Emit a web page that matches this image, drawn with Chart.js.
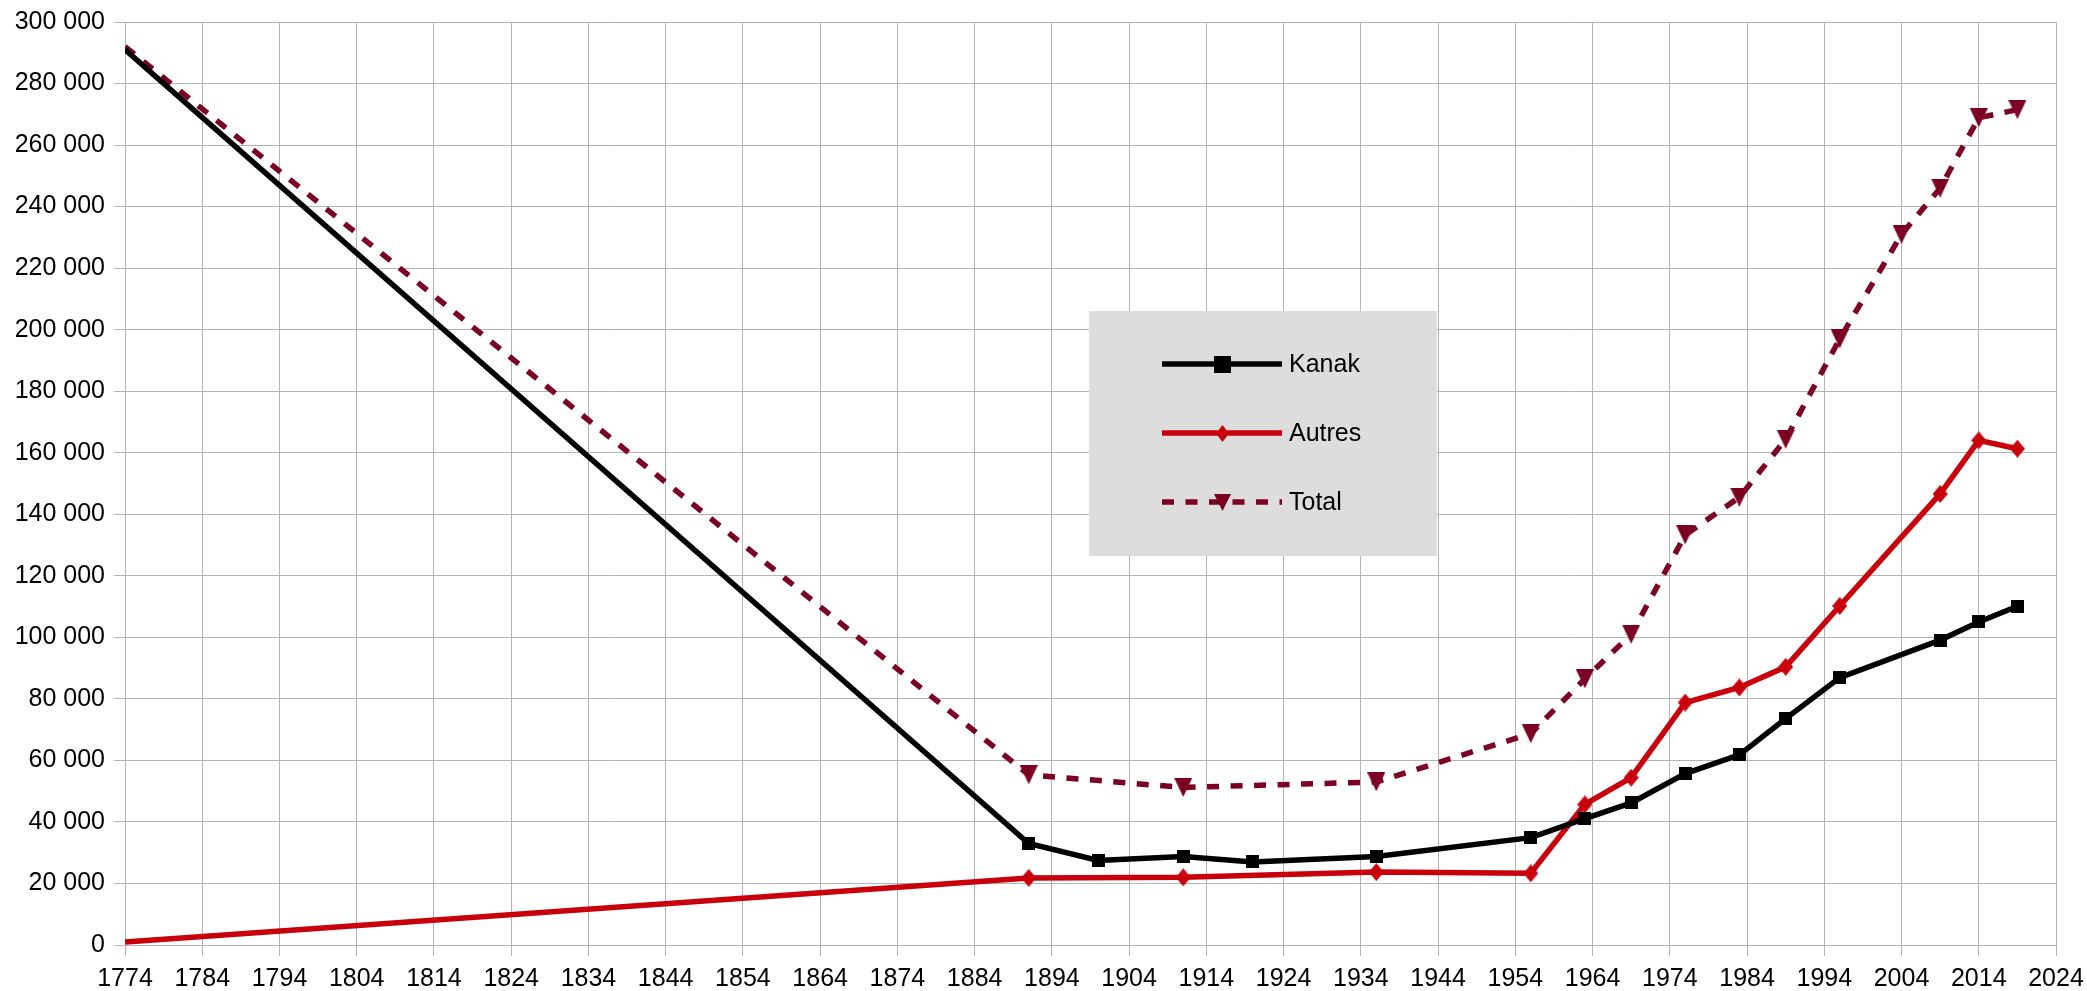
<!DOCTYPE html>
<html>
<head>
<meta charset="utf-8">
<script src="https://cdn.jsdelivr.net/npm/chart.js@4.4.1/dist/chart.umd.min.js"></script>
<style>
  html, body { margin: 0; padding: 0; background: #ffffff; }
  #wrap { width: 2087px; height: 991px; position: relative; }
</style>
</head>
<body>
<div id="wrap"><canvas id="chart" width="2087" height="991"></canvas></div>
<script>
// ---- Data ----
const seriesNames = ['Kanak', 'Autres', 'Total'];

const kanakYears  = [1774, 1891, 1900, 1911, 1920, 1936, 1956, 1963, 1969, 1976, 1983, 1989, 1996, 2009, 2014, 2019];
const kanakValues = [291000, 33000, 27500, 28800, 27000, 28800, 34900, 41100, 46200, 55700, 61800, 73600, 86900, 99100, 105000, 110100];

const autresYears  = [1774, 1891, 1911, 1936, 1956, 1963, 1969, 1976, 1983, 1989, 1996, 2009, 2014, 2019];
const autresValues = [1000, 21800, 22000, 23700, 23300, 45700, 54400, 78800, 83700, 90400, 110200, 146600, 164000, 161300];

const totalYears  = [1774, 1891, 1911, 1936, 1956, 1963, 1969, 1976, 1983, 1989, 1996, 2004, 2009, 2014, 2019];
const totalValues = [292000, 55300, 51200, 53000, 68700, 86500, 101000, 133300, 145500, 164400, 197000, 231000, 246000, 268900, 271500];

const xTickMin = 1774, xTickMax = 2024, xTickStep = 10;
const yTickMin = 0, yTickMax = 300000, yTickStep = 20000;

// ---- Styles ----
const COL_KANAK = '#000000';
const COL_AUTRES = '#c9000c';
const COL_TOTAL = '#7c0022';
const GRID = '#b3b3b3';
const FONT = "'Liberation Sans', Arial, sans-serif";
const LINE_W = 5.5;

function makeMarker(kind, w, h, color) {
  const c = document.createElement('canvas');
  c.width = w; c.height = h;
  const g = c.getContext('2d');
  g.fillStyle = color;
  g.beginPath();
  if (kind === 'square') {
    g.rect(0, 0, w, h);
  } else if (kind === 'diamond') {
    g.moveTo(w / 2, 0); g.lineTo(w, h / 2); g.lineTo(w / 2, h); g.lineTo(0, h / 2); g.closePath();
  } else if (kind === 'tridown') {
    g.moveTo(0, 0); g.lineTo(w, 0); g.lineTo(w / 2, h); g.closePath();
  }
  g.fill();
  return c;
}

const mkSquare = makeMarker('square', 13, 13, COL_KANAK);
const mkDiamond = makeMarker('diamond', 15, 18, COL_AUTRES);
const mkTri = makeMarker('tridown', 18, 19, COL_TOTAL);

const lgSquare = makeMarker('square', 17, 17, COL_KANAK);
const lgDiamond = makeMarker('diamond', 13, 17, COL_AUTRES);
const lgTri = makeMarker('tridown', 17, 17, COL_TOTAL);

function pts(xs, ys) { return xs.map((x, i) => ({ x: x, y: ys[i] })); }

function fmtThousands(v) {
  return String(Math.round(v)).replace(/\B(?=(\d{3})+(?!\d))/g, ' ');
}

const legendBox = {
  id: 'legendBox',
  afterDatasetsDraw(chart) {
    const ctx = chart.ctx;
    ctx.save();
    ctx.fillStyle = '#dddddd';
    ctx.fillRect(1089, 311, 348, 245);
    const rows = [364, 433, 502];
    const markers = [lgSquare, lgDiamond, lgTri];
    chart.data.datasets.forEach((ds, i) => {
      const y = rows[i];
      ctx.save();
      ctx.strokeStyle = ds.borderColor;
      ctx.lineWidth = LINE_W;
      ctx.setLineDash(ds.borderDash || []);
      ctx.beginPath();
      ctx.moveTo(1162, y);
      ctx.lineTo(1282, y);
      ctx.stroke();
      ctx.restore();
      const m = markers[i];
      ctx.drawImage(m, Math.round(1222 - m.width / 2), Math.round(y - m.height / 2));
      ctx.fillStyle = '#000000';
      ctx.font = '25px ' + FONT;
      ctx.textAlign = 'left';
      ctx.textBaseline = 'middle';
      ctx.fillText(ds.label, 1289, y + 1);
    });
    ctx.restore();
  }
};

const firstHidden = (r) => (ctx) => ctx.dataIndex === 0 ? 0 : r;

new Chart(document.getElementById('chart'), {
  type: 'line',
  data: {
    datasets: [
      {
        label: seriesNames[0],
        data: pts(kanakYears, kanakValues),
        borderColor: COL_KANAK,
        backgroundColor: COL_KANAK,
        borderWidth: LINE_W,
        pointStyle: mkSquare,
        pointRadius: firstHidden(7),
        tension: 0,
        fill: false
      },
      {
        label: seriesNames[1],
        data: pts(autresYears, autresValues),
        borderColor: COL_AUTRES,
        backgroundColor: COL_AUTRES,
        borderWidth: LINE_W,
        pointStyle: mkDiamond,
        pointRadius: firstHidden(8),
        tension: 0,
        fill: false
      },
      {
        label: seriesNames[2],
        data: pts(totalYears, totalValues),
        borderColor: COL_TOTAL,
        backgroundColor: COL_TOTAL,
        borderWidth: LINE_W,
        borderDash: [12, 11.5],
        pointStyle: mkTri,
        pointRadius: firstHidden(9),
        tension: 0,
        fill: false
      }
    ]
  },
  options: {
    responsive: false,
    animation: false,
    events: [],
    layout: { padding: { left: 0, top: 22, right: 31, bottom: 0 } },
    plugins: {
      legend: { display: false },
      tooltip: { enabled: false },
      title: { display: false }
    },
    scales: {
      x: {
        type: 'linear',
        min: xTickMin,
        max: xTickMax,
        afterFit(scale) { scale.height = 46; scale.paddingLeft = 0; scale.paddingRight = 0; },
        ticks: {
          stepSize: xTickStep,
          autoSkip: false,
          maxRotation: 0,
          minRotation: 0,
          padding: 8,
          color: '#000000',
          font: { family: FONT, size: 25 },
          callback: (v) => String(v)
        },
        grid: { color: GRID, lineWidth: 1, tickLength: 11, drawTicks: true },
        border: { color: GRID, width: 1 }
      },
      y: {
        type: 'linear',
        min: yTickMin,
        max: yTickMax,
        afterFit(scale) { scale.width = 125; scale.paddingTop = 0; scale.paddingBottom = 0; },
        ticks: {
          stepSize: yTickStep,
          padding: 9,
          color: '#000000',
          font: { family: FONT, size: 25 },
          callback: (v) => fmtThousands(v)
        },
        grid: { color: GRID, lineWidth: 1, tickLength: 11, drawTicks: true },
        border: { color: GRID, width: 1 }
      }
    }
  },
  plugins: [legendBox]
});
</script>
</body>
</html>
